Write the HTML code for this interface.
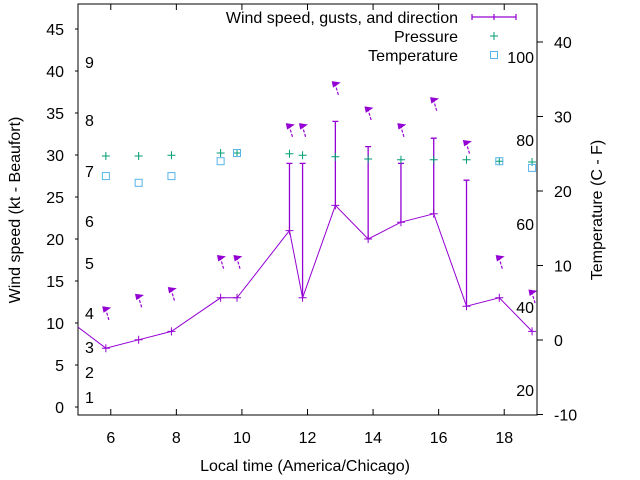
<!DOCTYPE html>
<html><head><meta charset="utf-8"><style>
html,body{margin:0;padding:0;background:#fff;}
svg{display:block;font-family:"Liberation Sans",sans-serif;}
</style></head><body>
<svg id="chart" width="640" height="480">
</svg>
<script>
const times=[5.85,6.85,7.85,9.35,9.85,11.45,11.85,12.85,13.85,14.85,15.85,16.85,17.85,18.85];
const speeds=[7,8,9,13,13,21,13,24,20,22,23,12,13,9];
const gustTimes=[11.45,11.85,12.85,13.85,14.85,15.85,16.85];
const gusts=[29,29,34,31,29,32,27];
const arrowLevels=[11.2,12.7,13.5,17.3,17.3,33,33,38,35,33,36.1,31,17.3,13.2];
const pressure=[24.7,24.7,24.8,25.1,25.1,25.0,24.8,24.6,24.3,24.2,24.2,24.2,24.0,23.9];
const tempTimes=[5.85,6.85,7.85,9.35,9.85,17.85,18.85];
const temps=[22.0,21.1,22.0,24.0,25.1,24.0,23.1];
const xTicks=[6,8,10,12,14,16,18];
const yTicks=[0,5,10,15,20,25,30,35,40,45];
const y2Ticks=[-10,0,10,20,30,40];
const beaufort=[[1,397],[2,372],[3,347],[4,313],[5,263],[6,221],[7,171],[8,120],[9,62]];
const fahr=[[100,57],[80,140],[60,224],[40,307],[20,390]];

const L=78,R=537,T=4,B=415;
const X=t=>L+(t-5)*(R-L)/14;
const Y=v=>407-v*8.4;
const Y2=v=>340-v*7.45;
const svg=document.getElementById('chart');
const NS='http://www.w3.org/2000/svg';
function mk(tag,attrs,parent){const e=document.createElementNS(NS,tag);for(const k in attrs)e.setAttribute(k,attrs[k]);(parent||svg).appendChild(e);return e;}
const clip=mk('clipPath',{id:'pc'});mk('rect',{x:L,y:T,width:R-L,height:B-T},clip);

const frame=mk('rect',{x:L,y:T,width:R-L,height:B-T,fill:'none',stroke:'#000','stroke-width':1});


xTicks.forEach(t=>{
  mk('line',{x1:X(t),x2:X(t),y1:B,y2:B-6,stroke:'#000'});
  mk('line',{x1:X(t),x2:X(t),y1:T,y2:T+6,stroke:'#000'});
  const tx=mk('text',{x:X(t),y:443,'font-size':16,'text-anchor':'middle'});tx.textContent=t;
  
});
yTicks.forEach(v=>{
  mk('line',{x1:L-3,x2:L,y1:Y(v),y2:Y(v),stroke:'#000'});
  const tx=mk('text',{x:64,y:Y(v)+6,'font-size':16,'text-anchor':'end'});tx.textContent=v;
  
});
y2Ticks.forEach(v=>{
  mk('line',{x1:R,x2:R+6,y1:Y2(v),y2:Y2(v),stroke:'#000'});
  const tx=mk('text',{x:554,y:Y2(v)+6,'font-size':16,'text-anchor':'start'});tx.textContent=v;
  
});
beaufort.forEach(b=>{const tx=mk('text',{x:85,y:b[1]+6,'font-size':16});tx.textContent=b[0];
  });
fahr.forEach(f=>{const tx=mk('text',{x:534,y:f[1]+6,'font-size':16,'text-anchor':'end'});tx.textContent=f[0];
  });

const g=mk('g',{'clip-path':'url(#pc)'});
const P='#9400d3',G='#009e73',C='#56b4e9';
let d='M'+X(4.9)+','+Y(9.8);
times.forEach((t,i)=>d+=' L'+X(t)+','+Y(speeds[i]));
const wl=mk('path',{d:d,fill:'none',stroke:P,'stroke-width':1},g);

times.forEach((t,i)=>{const x=X(t),y=Y(speeds[i]);
  const m=mk('path',{d:`M${x-4},${y}H${x+4}M${x},${y-4}V${y+4}`,stroke:P},g);
  });
gustTimes.forEach((t,i)=>{const x=X(t);const idx=times.indexOf(t);
  const b=mk('path',{d:`M${x},${Y(speeds[idx])}V${Y(gusts[i])}M${x-3},${Y(gusts[i])}H${x+3}`,stroke:P,'stroke-width':1.3},g);
  });
times.forEach((t,i)=>{const x=X(t),y=Y(arrowLevels[i]);
  const a=mk('g',{},g);
  
  mk('line',{x1:x+3,y1:y+7,x2:x,y2:y-3,stroke:P,'stroke-width':1.2,'stroke-dasharray':'3,1.5'},a);
  mk('path',{d:`M${x-3},${y-6}L${x+4},${y-5}L${x+1},${y-3}L${x-2},${y-1}Z`,fill:P,stroke:P,'stroke-width':1},a);});
times.forEach((t,i)=>{const x=X(t),y=Y2(pressure[i]);
  const m=mk('path',{d:`M${x-4},${y}H${x+4}M${x},${y-4}V${y+4}`,stroke:G},g);
  });
tempTimes.forEach((t,i)=>{const x=X(t),y=Y2(temps[i]);
  const m=mk('rect',{x:x-3.5,y:y-3.5,width:7,height:7,fill:'none',stroke:C},g);
  });

const lg=mk('g',{});
[['Wind speed, gusts, and direction',17],['Pressure',36],['Temperature',55]].forEach(l=>{
  const tx=mk('text',{x:458,y:l[1]+6,'font-size':16,'text-anchor':'end'},lg);tx.textContent=l[0];
  });
mk('path',{d:'M472,17H516M472,14V20M516,14V20M494,14V20',stroke:P,'stroke-width':1.2},lg);
mk('path',{d:'M490,36H498M494,32V40',stroke:G},lg);
mk('rect',{x:490.5,y:51.5,width:7,height:7,fill:'none',stroke:C},lg);

const xl=mk('text',{x:305,y:471,'font-size':16,'text-anchor':'middle'});xl.textContent='Local time (America/Chicago)';

const yl=mk('text',{x:0,y:0,'font-size':16,'text-anchor':'middle',transform:'translate(20,210) rotate(-90)'});yl.textContent='Wind speed (kt - Beaufort)';

const y2l=mk('text',{x:0,y:0,'font-size':16,'text-anchor':'middle',transform:'translate(602,210) rotate(-90)'});y2l.textContent='Temperature (C - F)';

</script>
</body></html>
